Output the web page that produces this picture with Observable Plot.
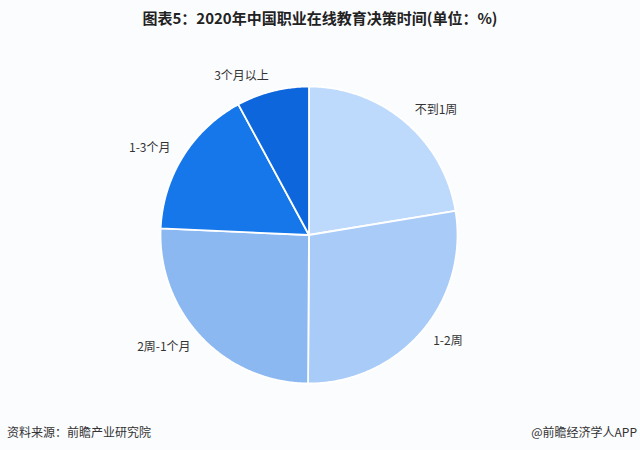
<!DOCTYPE html>
<html>
<head>
<meta charset="utf-8">
<script src="https://cdn.jsdelivr.net/npm/d3@7"></script>
<script src="https://cdn.jsdelivr.net/npm/@observablehq/plot@0.6"></script>
<style>
  html, body { margin: 0; padding: 0; background: #fbfcfe; }
  body { width: 640px; height: 450px; position: relative; overflow: hidden;
         font-family: "Noto Sans CJK SC", "Noto Sans", sans-serif; }
  #title { position: absolute; top: 7px; left: 0; width: 640px; text-align: center;
           font-size: 15px; font-weight: bold; color: #222; }
  #chart { position: absolute; top: 50px; left: 0; }
  #source { position: absolute; top: 423px; left: 7px; font-size: 12px; color: #333; }
  #brand { position: absolute; top: 423px; right: 3px; font-size: 12px; color: #333; }
</style>
</head>
<body>
<div id="title">图表5：2020年中国职业在线教育决策时间(单位：%)</div>
<div id="chart"></div>
<div id="source">资料来源：前瞻产业研究院</div>
<div id="brand">@前瞻经济学人APP</div>
<script>
const categories = ["不到1周", "1-2周", "2周-1个月", "1-3个月", "3个月以上"];
const values = [22.4, 27.7, 25.6, 16.4, 7.9];
const colors = ["#bddafd", "#a8cbf8", "#8cb8f2", "#1677ea", "#0d66dc"];

const data = categories.map((c, i) => ({category: c, value: values[i]}));
const arcs = d3.pie().sort(null).value(d => d.value)(data);

function pt(a, r) { return [r * Math.sin(a), -r * Math.cos(a)]; }

const features = arcs.map(a => {
  const n = Math.max(2, Math.ceil((a.endAngle - a.startAngle) / 0.01));
  const ring = [[0, 0]];
  for (let k = 0; k <= n; k++) {
    ring.push(pt(a.startAngle + (a.endAngle - a.startAngle) * k / n, 1));
  }
  ring.push([0, 0]);
  return {type: "Feature", properties: {category: a.data.category}, geometry: {type: "Polygon", coordinates: [ring]}};
});

const labels = arcs.map(a => {
  const m = (a.startAngle + a.endAngle) / 2;
  const [x, y] = pt(m, 1.1);
  return {category: a.data.category, x, y, anchor: Math.sin(m) >= 0 ? "start" : "end"};
});

const domain = {type: "Polygon", coordinates: [[[-1, -1], [1, -1], [1, 1], [-1, 1], [-1, -1]]]};

const plot = Plot.plot({
  width: 640,
  height: 360,
  marginTop: 36,
  marginBottom: 27,
  marginLeft: 160,
  marginRight: 183,
  projection: {type: "identity", domain, clip: false},
  color: {domain: categories, range: colors},
  style: {background: "transparent", fontFamily: "'Noto Sans CJK SC', sans-serif"},
  marks: [
    Plot.geo(features, {fill: d => d.properties.category, stroke: "white", strokeWidth: 1.8}),
    Plot.text(labels.filter(d => d.anchor === "start"), {x: "x", y: "y", text: "category", textAnchor: "start", fontSize: 12, fill: "#333"}),
    Plot.text(labels.filter(d => d.anchor === "end"), {x: "x", y: "y", text: "category", textAnchor: "end", fontSize: 12, fill: "#333"})
  ]
});
document.getElementById("chart").appendChild(plot);
</script>
</body>
</html>
